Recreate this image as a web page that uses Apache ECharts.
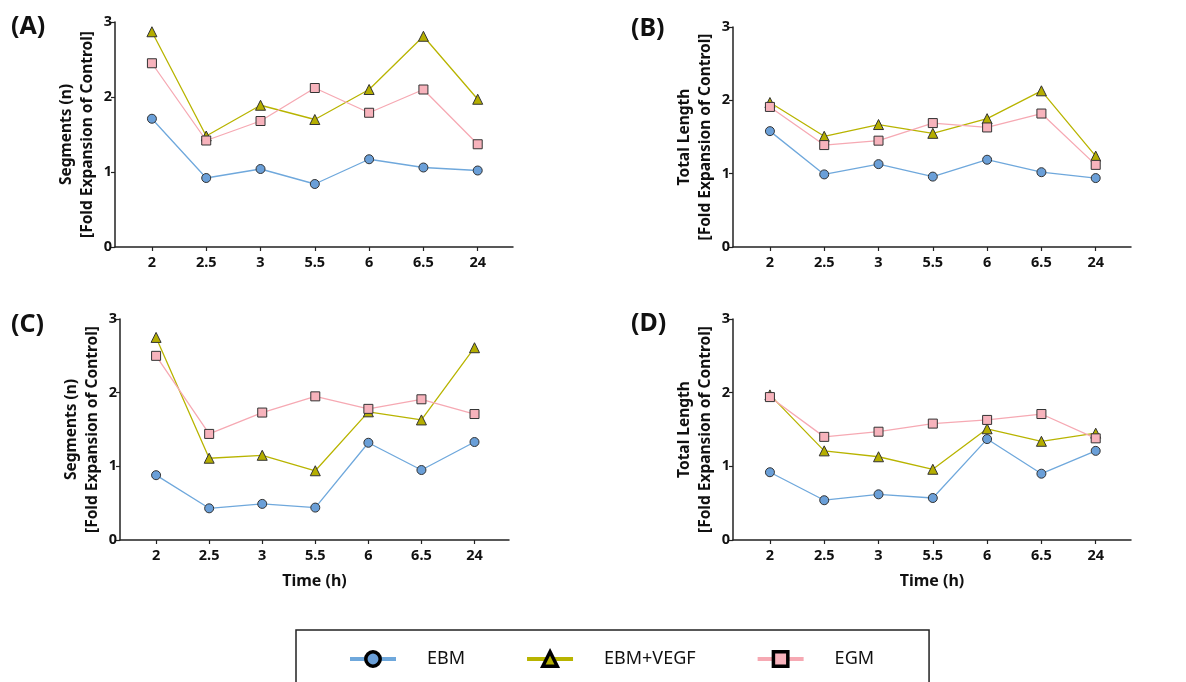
<!DOCTYPE html>
<html><head><meta charset="utf-8">
<script src="https://cdn.jsdelivr.net/npm/echarts@6/dist/echarts.min.js"></script>
<style>html,body{margin:0;padding:0;background:#fff}#c{width:1186px;height:682px}</style>
</head><body><div id="c"></div>
<script>
var categories = ['2','2.5','3','5.5','6','6.5','24'];
var seriesNames = ['EBM','EBM+VEGF','EGM'];
var yTicks = [0,1,2,3];
var panelLabels = ['(A)','(B)','(C)','(D)'];
var yNames = ['Segments (n)\n[Fold Expansion of Control]','Total Length\n[Fold Expansion of Control]','Segments (n)\n[Fold Expansion of Control]','Total Length\n[Fold Expansion of Control]'];
var xName = 'Time (h)';

var A_EBM  = [1.71,0.92,1.04,0.84,1.17,1.06,1.02];
var A_VEGF = [2.87,1.48,1.89,1.70,2.10,2.81,1.97];
var A_EGM  = [2.45,1.42,1.68,2.12,1.79,2.10,1.37];

var B_EBM  = [1.58,0.99,1.13,0.96,1.19,1.02,0.94];
var B_VEGF = [1.97,1.51,1.67,1.55,1.75,2.13,1.24];
var B_EGM  = [1.91,1.39,1.45,1.69,1.63,1.82,1.12];

var C_EBM  = [0.88,0.43,0.49,0.44,1.32,0.95,1.33];
var C_VEGF = [2.75,1.11,1.15,0.94,1.74,1.63,2.61];
var C_EGM  = [2.50,1.44,1.73,1.95,1.78,1.91,1.71];

var D_EBM  = [0.92,0.54,0.62,0.57,1.37,0.90,1.21];
var D_VEGF = [1.97,1.21,1.13,0.96,1.51,1.34,1.45];
var D_EGM  = [1.94,1.40,1.47,1.58,1.63,1.71,1.38];

var panels = [[A_EBM,A_VEGF,A_EGM],[B_EBM,B_VEGF,B_EGM],[C_EBM,C_VEGF,C_EGM],[D_EBM,D_VEGF,D_EGM]];

var FONT = '"Noto Sans", "DejaVu Sans", sans-serif';
var grids = [
  {left:115, top:22, width:398, height:225},
  {left:733, top:27, width:398, height:220},
  {left:120, top:319, width:389, height:221},
  {left:733, top:319, width:398, height:221}
];
var styles = [
  {line:'#6fa8dc', fill:'#6a9fd8', symbol:'circle', size:9},
  {line:'#b8b400', fill:'#b5ae00', symbol:'triangle', size:10},
  {line:'#f6a9b3', fill:'#f7b3bc', symbol:'rect', size:9}
];
var idx = categories.map(function(_, i){return i;});

var xAxes = [], yAxes = [], series = [];
grids.forEach(function(g, gi){
  xAxes.push({
    type:'value', gridIndex:gi, min:-0.68, max:6.65,
    name: gi>=2 ? xName : '', nameLocation:'middle', nameGap:33,
    nameTextStyle:{fontFamily:FONT, fontWeight:'bold', fontSize:16, color:'#111'},
    splitLine:{show:false},
    axisLine:{show:true, onZero:false, lineStyle:{color:'#222', width:1.5}},
    axisTick:{show:true, customValues:idx, length:4, lineStyle:{color:'#222', width:1.2}},
    axisLabel:{customValues:idx, margin:8, fontFamily:FONT, fontWeight:'bold', fontSize:14.5, color:'#111',
      formatter:function(v){return categories[Math.round(v)];}}
  });
  yAxes.push({
    type:'value', gridIndex:gi, min:0, max:3, interval:1,
    name: yNames[gi], nameLocation:'middle', nameGap:17,
    nameTextStyle:{fontFamily:FONT, fontWeight:'bold', fontSize:15.5, color:'#111', lineHeight:21},
    splitLine:{show:false},
    axisLine:{show:true, onZero:false, lineStyle:{color:'#222', width:1.5}},
    axisTick:{show:true, length:4, lineStyle:{color:'#222', width:1.2}},
    axisLabel:{margin:3, fontFamily:FONT, fontWeight:'bold', fontSize:14.5, color:'#111',
      formatter:function(v){return yTicks.indexOf(v)>=0 ? String(v) : '';}}
  });
  panels[gi].forEach(function(vals, si){
    var st = styles[si];
    series.push({
      type:'line', name:seriesNames[si], xAxisIndex:gi, yAxisIndex:gi,
      data: vals.map(function(v,i){return [i,v];}),
      symbol: st.symbol, symbolSize: st.size, showAllSymbol:true,
      lineStyle:{color:st.line, width:1.3},
      itemStyle:{color:st.fill, borderColor:'#333', borderWidth:1},
      emphasis:{disabled:true}, animation:false, z: 2+si
    });
  });
});

var chart = echarts.init(document.getElementById('c'), null, {renderer:'canvas'});
chart.setOption({
  backgroundColor:'#fff',
  animation:false,
  grid: grids,
  xAxis: xAxes,
  yAxis: yAxes,
  series: series,
  title: [
    {text:panelLabels[0], left:11, top:14},
    {text:panelLabels[1], left:631, top:16},
    {text:panelLabels[2], left:11, top:312},
    {text:panelLabels[3], left:631, top:311}
  ].map(function(t){ t.textStyle={fontFamily:FONT, fontWeight:'bold', fontSize:25, color:'#111'}; t.padding=0; return t; }),
  legend: {
    data: seriesNames, left:296, top:630, width:633,
    orient:'horizontal', itemGap:60,
    padding:[20, 55, 40, 52],
    borderColor:'#222', borderWidth:1.5,
    itemWidth:46, itemHeight:18,
    itemStyle:{borderColor:'#000', borderWidth:3.5},
    lineStyle:{width:4},
    textStyle:{fontFamily:FONT, fontSize:18, color:'#111', padding:[0,0,0,26]}
  }
});
</script></body></html>
